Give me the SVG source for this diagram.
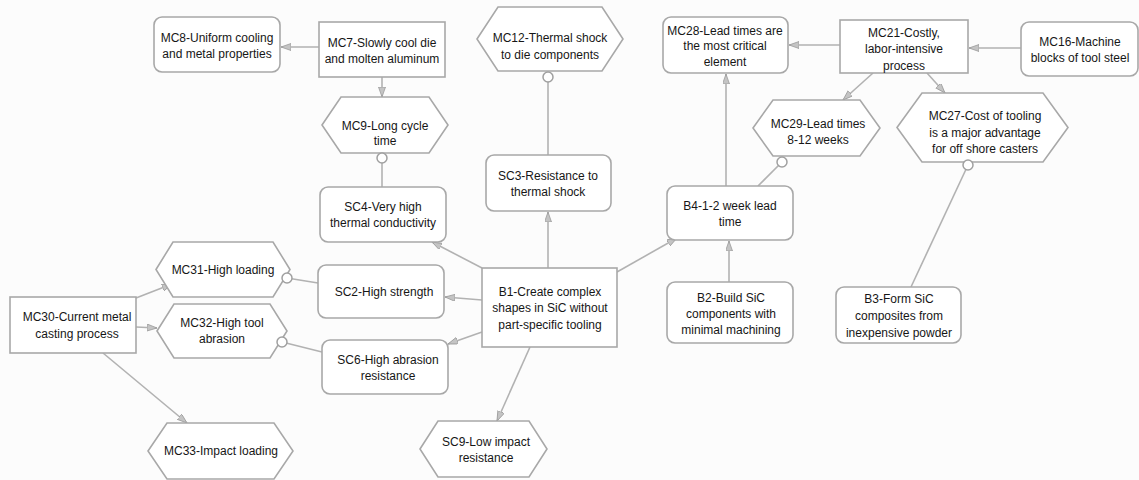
<svg xmlns="http://www.w3.org/2000/svg" width="1139" height="480" viewBox="0 0 1139 480">
<defs>
<marker id="arr" markerUnits="userSpaceOnUse" markerWidth="12" markerHeight="8" refX="10" refY="3.5" orient="auto">
<path d="M0,0 L10,3.5 L0,7 z" fill="#c4c4c4" stroke="#9a9a9a" stroke-width="0.8"/>
</marker>
<style>
.box{fill:#ffffff;stroke:#a8a8a8;stroke-width:1.6}
.ln{stroke:#b2b2b2;stroke-width:1.6;fill:none}
.ar{stroke:#b2b2b2;stroke-width:1.6;fill:none;marker-end:url(#arr)}
.dot{fill:#ffffff;stroke:#a0a0a0;stroke-width:1.5}
text{font-family:"Liberation Sans",Arial,sans-serif;font-size:12px;fill:#161616;text-anchor:middle}
</style>
</defs>
<rect x="0" y="0" width="1139" height="480" fill="#fcfcfc"/>
<g id="connectors">
<line class="ar" x1="319" y1="47" x2="281" y2="47"/>
<line class="ar" x1="382" y1="77" x2="382" y2="97"/>
<line class="ln" x1="382" y1="187" x2="382" y2="158"/>
<line class="ln" x1="548" y1="155" x2="548" y2="77"/>
<line class="ar" x1="548" y1="268" x2="548" y2="212"/>
<line class="ar" x1="482" y1="268" x2="432" y2="242"/>
<line class="ar" x1="482" y1="300" x2="445" y2="297"/>
<line class="ar" x1="482" y1="332" x2="448" y2="344"/>
<line class="ar" x1="530" y1="347" x2="497" y2="421"/>
<line class="ar" x1="617" y1="272" x2="677" y2="238"/>
<line class="ar" x1="729" y1="282" x2="729" y2="241"/>
<line class="ar" x1="726" y1="186" x2="726" y2="74"/>
<line class="ar" x1="840" y1="45" x2="789" y2="45"/>
<line class="ar" x1="1021" y1="48" x2="969" y2="48"/>
<line class="ar" x1="873" y1="73" x2="843" y2="100"/>
<line class="ar" x1="927" y1="73" x2="945" y2="93"/>
<line class="ln" x1="758" y1="186" x2="782" y2="162"/>
<line class="ln" x1="911" y1="287" x2="968" y2="165"/>
<line class="ln" x1="318" y1="283" x2="287" y2="278"/>
<line class="ln" x1="322" y1="352" x2="282" y2="342"/>
<line class="ar" x1="136" y1="298" x2="172" y2="284"/>
<line class="ar" x1="136" y1="327" x2="157" y2="328"/>
<line class="ar" x1="103" y1="353" x2="187" y2="423"/>
</g>
<g id="MC8"><rect class="box" x="154" y="17" width="126" height="55" rx="8"/><text x="217" y="42">MC8-Uniform cooling</text><text x="217" y="58">and metal properties</text></g>
<g id="MC7"><rect class="box" x="319" y="22" width="126" height="55"/><text x="382" y="47">MC7-Slowly cool die</text><text x="382" y="63">and molten aluminum</text></g>
<g id="MC9"><polygon class="box" points="322,125 341,97 429,97 448,125 429,153 341,153"/><text x="385" y="130">MC9-Long cycle</text><text x="385" y="145">time</text></g>
<g id="MC12"><polygon class="box" points="477,39 498,7 602,7 623,39 602,71 498,71"/><text x="550" y="42">MC12-Thermal shock</text><text x="550" y="59">to die components</text></g>
<g id="SC3"><rect class="box" x="486" y="155" width="125" height="56" rx="8"/><text x="548" y="180">SC3-Resistance to</text><text x="548" y="196">thermal shock</text></g>
<g id="SC4"><rect class="box" x="320" y="187" width="126" height="55" rx="8"/><text x="383" y="211">SC4-Very high</text><text x="383" y="227">thermal conductivity</text></g>
<g id="MC28"><rect class="box" x="663" y="17" width="125" height="56" rx="8"/><text x="725" y="35">MC28-Lead times are</text><text x="725" y="50">the most critical</text><text x="725" y="66">element</text></g>
<g id="MC21"><rect class="box" x="840" y="20" width="128" height="53"/><text x="904" y="37">MC21-Costly,</text><text x="904" y="53">labor-intensive</text><text x="904" y="70">process</text></g>
<g id="MC16"><rect class="box" x="1021" y="22" width="117" height="54" rx="8"/><text x="1080" y="46">MC16-Machine</text><text x="1080" y="62">blocks of tool steel</text></g>
<g id="MC29"><polygon class="box" points="753,128 773,100 860,100 880,128 860,156 773,156"/><text x="818" y="128">MC29-Lead times</text><text x="818" y="144">8-12 weeks</text></g>
<g id="MC27"><polygon class="box" points="897,127.5 922,93 1043,93 1068,127.5 1043,162 922,162"/><text x="985" y="120">MC27-Cost of tooling</text><text x="985" y="137">is a major advantage</text><text x="985" y="153">for off shore casters</text></g>
<g id="B4"><rect class="box" x="667" y="186" width="126" height="54" rx="8"/><text x="730" y="210">B4-1-2 week lead</text><text x="730" y="226">time</text></g>
<g id="B2"><rect class="box" x="667" y="282" width="126" height="61" rx="8"/><text x="731" y="302">B2-Build SiC</text><text x="731" y="318">components with</text><text x="731" y="334">minimal machining</text></g>
<g id="B3"><rect class="box" x="836" y="287" width="125" height="56" rx="8"/><text x="899" y="303">B3-Form SiC</text><text x="899" y="320">composites from</text><text x="899" y="337">inexpensive powder</text></g>
<g id="B1"><rect class="box" x="482" y="268" width="135" height="79"/><text x="550" y="296">B1-Create complex</text><text x="550" y="312">shapes in SiC without</text><text x="550" y="329">part-specific tooling</text></g>
<g id="SC2"><rect class="box" x="318" y="265" width="126" height="53" rx="8"/><text x="384" y="296">SC2-High strength</text></g>
<g id="SC6"><rect class="box" x="322" y="340" width="126" height="54" rx="8"/><text x="388" y="364">SC6-High abrasion</text><text x="388" y="380">resistance</text></g>
<g id="SC9"><polygon class="box" points="420,449 438,421 529,421 547,449 529,477 438,477"/><text x="486" y="446">SC9-Low impact</text><text x="486" y="462">resistance</text></g>
<g id="MC30"><rect class="box" x="10" y="297" width="126" height="56"/><text x="77" y="321">MC30-Current metal</text><text x="77" y="338">casting process</text></g>
<g id="MC31"><polygon class="box" points="156,269.5 173,242 273,242 290,269.5 273,297 173,297"/><text x="223" y="274">MC31-High loading</text></g>
<g id="MC32"><polygon class="box" points="157,331 174,304 270,304 287,331 270,358 174,358"/><text x="222" y="327">MC32-High tool</text><text x="222" y="343">abrasion</text></g>
<g id="MC33"><polygon class="box" points="148,451 167,423 274,423 293,451 274,479 167,479"/><text x="221" y="455">MC33-Impact loading</text></g>
<g id="endpoints">
<circle class="dot" cx="382" cy="158" r="5"/>
<circle class="dot" cx="548" cy="77" r="5"/>
<circle class="dot" cx="782" cy="162" r="5"/>
<circle class="dot" cx="968" cy="165" r="5"/>
<circle class="dot" cx="287" cy="278" r="5"/>
<circle class="dot" cx="282" cy="342" r="5"/>
</g>
</svg>
